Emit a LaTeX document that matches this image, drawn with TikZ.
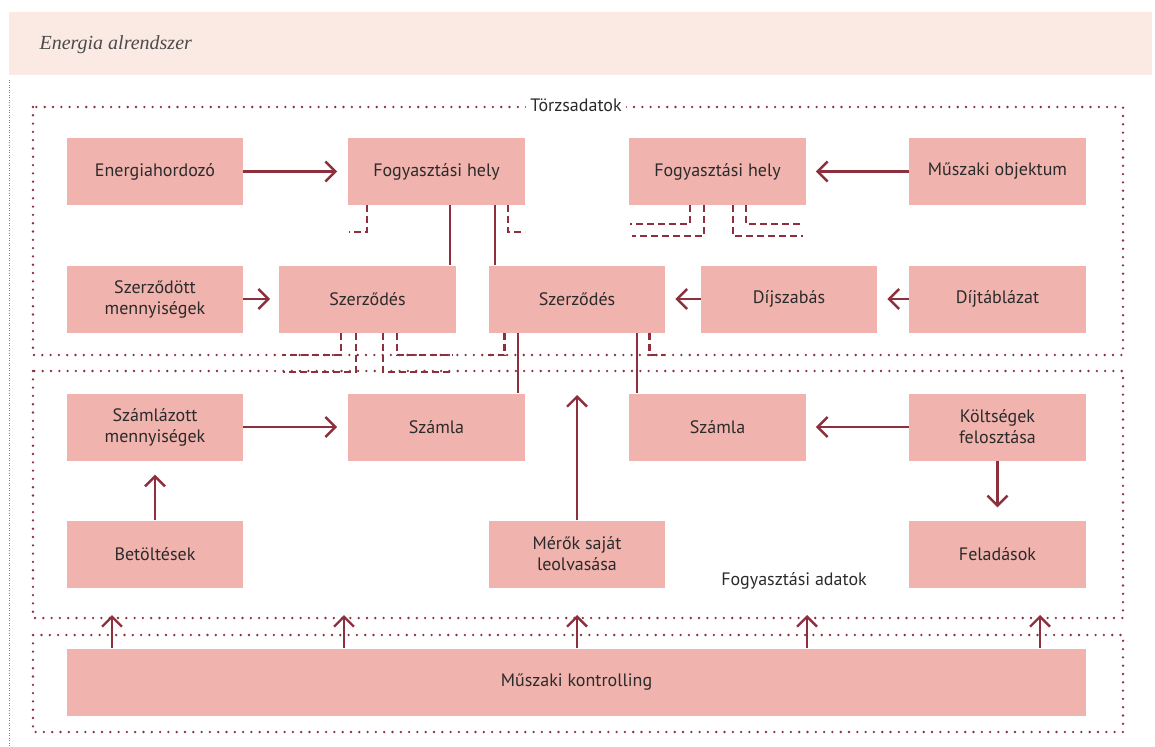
\documentclass[tikz,border=0pt]{standalone}
\usepackage{fontspec}
\setmainfont{PT Sans}
\newfontfamily\headfont{Liberation Serif}
\usetikzlibrary{arrows.meta}
\definecolor{wine}{HTML}{8E2F3E}
\definecolor{rose}{HTML}{F0B3AD}
\definecolor{blush}{HTML}{FBE9E3}
\definecolor{ink}{HTML}{2B2B2B}
\tikzset{
  box/.style={fill=rose, minimum width=176.5pt, minimum height=67pt, inner sep=2pt,
    align=center, text=ink, font=\fontsize{18}{21}\selectfont},
  flow/.style={draw=wine, line width=2.4pt, -{Straight Barb[length=10pt,width=20pt]}},
  link/.style={draw=wine, line width=2.4pt},
  stub/.style={draw=wine, line width=2.4pt, dash pattern=on 7pt off 4pt},
  frame/.style={draw=wine, line width=2.6pt, line cap=round, dash pattern=on 0pt off 8.3pt},
  caption/.style={text=ink, font=\fontsize{18}{21}\selectfont, inner sep=4pt}
}
\begin{document}
\begin{tikzpicture}[x=1pt, y=-1pt]
    \useasboundingbox (0,0) rectangle (1155,746);
    %Header band
    \fill[blush] (9,12) rectangle (1152,75);
    \node[anchor=west, text=ink!85, font=\headfont\itshape\fontsize{20}{24}\selectfont] (title) at (36,45) {Energia alrendszer};
    \draw[gray, line width=1pt, dash pattern=on 1pt off 1.5pt] (9,80) -- (9,746);
    %Frames
    \draw[frame] (33,107) rectangle (1123,355);
    \draw[frame] (33,371) rectangle (1123,618);
    \draw[frame] (33,635) rectangle (1123,732);
    \node[caption, fill=white] (torzs) at (576,105) {Törzsadatok};
    \node[caption] (fogyadat) at (794,581) {Fogyasztási adatok};
    %Row 1
    \node[box] (energia) at (155,171.5) {Energiahordozó};
    \node[box] (fogy1) at (436.5,171.5) {Fogyasztási hely};
    \node[box] (fogy2) at (717.5,171.5) {Fogyasztási hely};
    \node[box] (objektum) at (997.5,171.5) {Műszaki objektum};
    %Row 2
    \node[box] (szmenny) at (155,299) {Szerződött\\mennyiségek};
    \node[box] (szerz1) at (367.5,299) {Szerződés};
    \node[box] (szerz2) at (577,299) {Szerződés};
    \node[box] (dijszabas) at (789,299) {Díjszabás};
    \node[box] (dijtabla) at (997.5,299) {Díjtáblázat};
    %Row 3
    \node[box] (szlmenny) at (155,427) {Számlázott\\mennyiségek};
    \node[box] (szamla1) at (436.5,427) {Számla};
    \node[box] (szamla2) at (717.5,427) {Számla};
    \node[box] (koltseg) at (997.5,427) {Költségek\\felosztása};
    %Row 4
    \node[box] (betolt) at (155,554) {Betöltések};
    \node[box] (merok) at (577,554) {Mérők saját\\leolvasása};
    \node[box] (feladas) at (997.5,554) {Feladások};
    %Row 5
    \node[box, minimum width=1019pt] (kontroll) at (576.5,682) {Műszaki kontrolling};
    %Arrows
    \draw[flow, shorten >=11pt] (energia) -- (fogy1);
    \draw[flow, shorten >=10pt] (objektum) -- (fogy2);
    \draw[flow, shorten >=9pt] (szmenny) -- (szerz1);
    \draw[flow, shorten >=10pt] (dijszabas) -- (szerz2);
    \draw[flow, shorten >=10pt] (dijtabla) -- (dijszabas);
    \draw[flow, shorten >=11pt] (szlmenny) -- (szamla1);
    \draw[flow, shorten >=10pt] (koltseg) -- (szamla2);
    \draw[flow, shorten >=13pt] (koltseg) -- (feladas);
    \draw[flow, shorten >=14pt] (betolt) -- (szlmenny);
    \coordinate (merotip) at (577,395);
    \draw[flow] (merok) -- (merotip);
    \foreach \x [count=\i] in {112,344,577,807,1040} {
      \coordinate (kin\i) at (\x,615);
      \draw[flow] (kontroll.north -| kin\i) -- (kin\i);
    }
    %Solid links
    \draw[link] ([xshift=13.5pt]fogy1.south) -- ([xshift=13.5pt]fogy1.south |- szerz1.north);
    \draw[link] ([xshift=58.5pt]fogy1.south) -- ([xshift=58.5pt]fogy1.south |- szerz2.north);
    \draw[link] ([xshift=-59pt]szerz2.south) -- ([xshift=-59pt]szerz2.south |- szamla1.north);
    \draw[link] ([xshift=60pt]szerz2.south) -- ([xshift=60pt]szerz2.south |- szamla2.north);
    %Dashed stubs
    \draw[stub] ([xshift=19pt]fogy1.south west) -- ++(0,27) -- ++(-18,0);
    \draw[stub] ([xshift=-17pt]fogy1.south east) -- ++(0,27) -- ++(17,0);
    \draw[stub] ([xshift=61pt]fogy2.south west) -- ++(0,19) -- ++(-60,0);
    \draw[stub] ([xshift=75pt]fogy2.south west) -- ++(0,31) -- ++(-72,0);
    \draw[stub] ([xshift=104pt]fogy2.south west) -- ++(0,31) -- ++(70,0);
    \draw[stub] ([xshift=117pt]fogy2.south west) -- ++(0,19) -- ++(57,0);
    \draw[stub] ([xshift=62pt]szerz1.south west) -- ++(0,22) -- ++(-58,0);
    \draw[stub] ([xshift=77pt]szerz1.south west) -- ++(0,39) -- ++(-73,0);
    \draw[stub] ([xshift=104pt]szerz1.south west) -- ++(0,39) -- ++(70,0);
    \draw[stub] ([xshift=118pt]szerz1.south west) -- ++(0,22) -- ++(56,0);
    \draw[stub] ([xshift=16pt]szerz2.south west) -- ++(0,22) -- ++(-17,0);
    \draw[stub] ([xshift=161pt]szerz2.south west) -- ++(0,22) -- ++(15,0);
\end{tikzpicture}
\end{document}
